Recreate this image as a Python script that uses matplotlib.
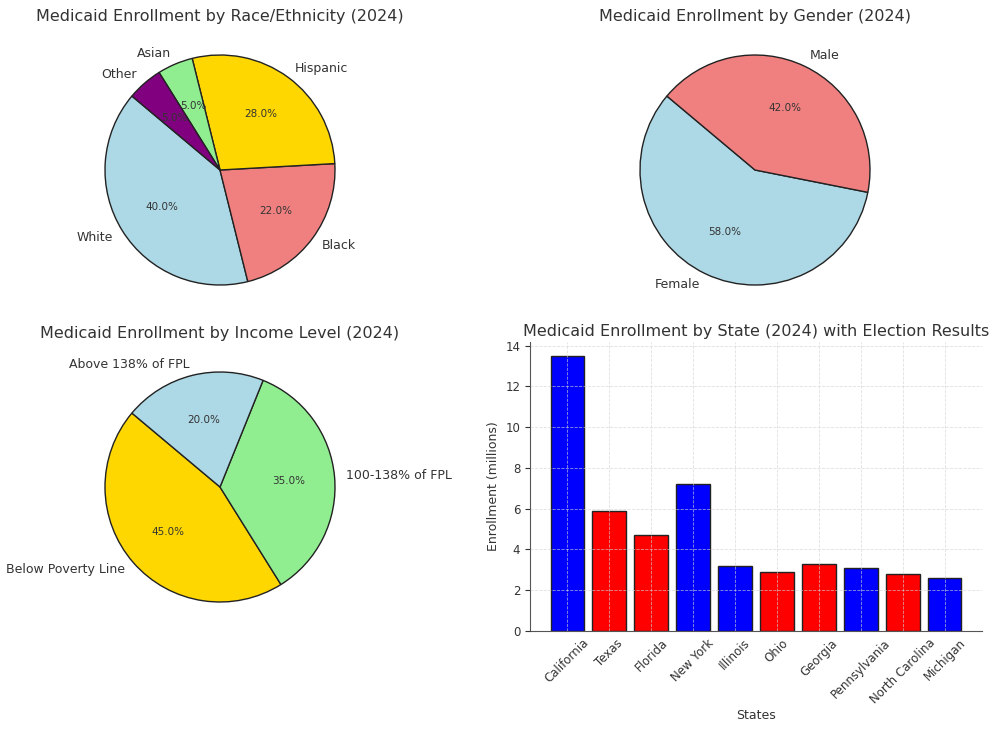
import matplotlib
matplotlib.use('Agg')
import matplotlib.pyplot as plt

# Pie data
race_labels = ['White', 'Black', 'Hispanic', 'Asian', 'Other']
race_values = [40, 22, 28, 5, 5]
race_colors = ['lightblue', 'lightcoral', 'gold', 'lightgreen', 'purple']

gender_labels = ['Female', 'Male']
gender_values = [58, 42]
gender_colors = ['lightblue', 'lightcoral']

income_labels = ['Below Poverty Line', '100-138% of FPL', 'Above 138% of FPL']
income_values = [45, 35, 20]
income_colors = ['gold', 'lightgreen', 'lightblue']

# Bar data
states = ['California', 'Texas', 'Florida', 'New York', 'Illinois', 'Ohio',
          'Georgia', 'Pennsylvania', 'North Carolina', 'Michigan']
enrollment = [13.5, 5.9, 4.7, 7.2, 3.2, 2.9, 3.3, 3.1, 2.8, 2.6]
state_colors = ['blue', 'red', 'red', 'blue', 'blue', 'red',
                'red', 'blue', 'red', 'blue']

TEXT = '#333333'
plt.rcParams.update({
    'text.color': TEXT,
    'axes.labelcolor': TEXT,
    'xtick.color': TEXT,
    'ytick.color': TEXT,
    'axes.edgecolor': '#555555',
})

W, H = 1000, 729
fig = plt.figure(figsize=(W / 100, H / 100), dpi=100)


def pie_axes(cx, cy, r):
    """Axes (in pixels) so a pie of radius r is centred at (cx, cy)."""
    half = 1.25 * r
    return fig.add_axes([(cx - half) / W, (H - cy - half) / H,
                         2 * half / W, 2 * half / H])


def draw_pie(ax, values, labels, colors, title):
    _, _, autotexts = ax.pie(values, labels=labels, colors=colors,
                             autopct='%1.1f%%', startangle=140,
                             wedgeprops={'edgecolor': '#222222', 'linewidth': 1},
                             textprops={'fontsize': 9})
    for t in autotexts:
        t.set_fontsize(7.5)
    ax.set_title(title, fontsize=11.5, pad=3.5)


draw_pie(pie_axes(220, 170, 115), race_values, race_labels, race_colors,
         'Medicaid Enrollment by Race/Ethnicity (2024)')
draw_pie(pie_axes(755, 170, 115), gender_values, gender_labels, gender_colors,
         'Medicaid Enrollment by Gender (2024)')
draw_pie(pie_axes(220, 487, 115), income_values, income_labels, income_colors,
         'Medicaid Enrollment by Income Level (2024)')

ax = fig.add_axes([530 / W, (H - 631) / H, (982 - 530) / W, (631 - 342) / H])
ax.bar(states, enrollment, color=state_colors, edgecolor='#222222')
ax.set_title('Medicaid Enrollment by State (2024) with Election Results',
             fontsize=11.5, pad=4)
ax.set_xlabel('States', fontsize=9, labelpad=2)
ax.set_ylabel('Enrollment (millions)', fontsize=9)
ax.tick_params(labelsize=8.5)
ax.tick_params(axis='x', length=0, pad=4)
plt.setp(ax.get_xticklabels(), rotation=45)
ax.grid(True, linestyle='--', linewidth=0.6, color='lightgray', alpha=0.7)
ax.set_axisbelow(False)
ax.spines['top'].set_visible(False)
ax.spines['right'].set_visible(False)

fig.savefig('out.png', dpi=100)
